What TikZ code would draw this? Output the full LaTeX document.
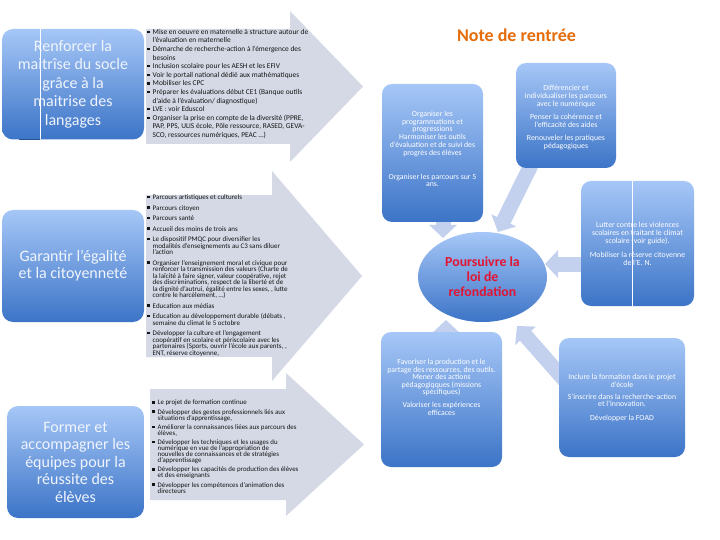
\documentclass[tikz,border=0pt]{standalone}
\usepackage{fontspec}
\setmainfont{Carlito}
\usetikzlibrary{arrows.meta,shapes.geometric}
\definecolor{boxtop}{RGB}{166,199,247}
\definecolor{boxbot}{RGB}{60,116,199}
\definecolor{chevcol}{RGB}{212,217,229}
\definecolor{conncol}{RGB}{195,209,238}
\definecolor{titlecol}{RGB}{228,108,10}
\definecolor{redcol}{RGB}{226,20,50}
\definecolor{paletxt}{RGB}{240,244,252}
\newcommand\sqb{\makebox[5.5pt][l]{\rule[1.3pt]{2.3pt}{2.3pt}}}
\newcommand\ctn{\hspace*{5.5pt}}
\begin{document}
\begin{tikzpicture}[x=1pt,y=-1pt,
  lbox/.style={rounded corners=11pt, top color=boxtop, bottom color=boxbot, draw=none, inner sep=0pt, align=center, text=paletxt},
  rbox/.style={rounded corners=10pt, top color=boxtop, bottom color=boxbot, draw=none, inner sep=0pt},
  rtxt/.style={align=center, text=white, inner sep=0pt, font=\fontsize{7.8}{7.8}\selectfont},
  ltxt/.style={align=left, inner sep=0pt, text=black!92, anchor=north west},
  conn/.style={draw=conncol, line width=15pt, -{Triangle[length=13pt,width=27pt]}},
  chev/.style={fill=chevcol}]
\useasboundingbox (0,0) rectangle (720,540);
\fill[white] (0,0) rectangle (720,540);

% big chevron arrows
\fill[chev] (146,29) -- (290,29) -- (290,11) -- (363,86.5) -- (290,162) -- (290,144) -- (146,144) -- cycle;
\fill[chev] (146,195) -- (272,195) -- (272,171) -- (362,276) -- (272,381) -- (272,357) -- (146,357) -- cycle;
\fill[chev] (150,389) -- (286,389) -- (286,373) -- (364,444.5) -- (286,516) -- (286,500) -- (150,500) -- cycle;

% left boxes
\node[lbox, minimum width=142pt, minimum height=110.5pt, font=\fontsize{16}{18.5}\selectfont] (b1) at (73,84.25)
  {Renforcer la\\maitrîse du socle\\grâce à la\\maitrise des\\langages};
\draw[white, line width=0.6pt] (40,29) -- (40,139.5);
\draw[boxbot!70!black, line width=0.6pt] (19,139.5) -- (40,139.5);
\node[lbox, minimum width=142pt, minimum height=112pt, font=\fontsize{16}{17}\selectfont] (b2) at (73,266)
  {Garantir l'égalité\\et la citoyenneté};
\node[lbox, minimum width=137pt, minimum height=112pt, font=\fontsize{16}{17.5}\selectfont] (b3) at (75.5,462)
  {Former et\\accompagner les\\équipes pour la\\réussite des\\élèves};

% list texts
\node[ltxt, font=\fontsize{7.4}{8.6}\selectfont] (l1) at (147,29) {%
\sqb Mise en oeuvre en maternelle à structure autour de\\
\ctn l'évaluation en maternelle\\
\sqb Démarche de recherche-action à l'émergence des\\
\ctn besoins\\
\sqb Inclusion scolaire pour les AESH et les EFIV\\
\sqb Voir le portail national dédié aux mathématiques\\
\sqb Mobiliser les CPC\\
\sqb Préparer les évaluations début CE1 (Banque outils\\
\ctn d'aide à l'évaluation/ diagnostique)\\
\sqb LVE : voir Eduscol\\
\sqb Organiser la prise en compte de la diversité (PPRE,\\
\ctn PAP, PPS, ULIS école, Pôle ressource, RASED, GEVA-\\
\ctn SCO, ressources numériques, PEAC …)};

\node[ltxt, font=\fontsize{7}{6.5}\selectfont] (l2) at (147,194.5) {%
\sqb Parcours artistiques et culturels\\[4pt]
\sqb Parcours citoyen\\[4pt]
\sqb Parcours santé\\[4pt]
\sqb Accueil des moins de trois ans\\[4pt]
\sqb Le dispositif PMQC pour diversifier les\\
\ctn modalités d'enseignements au C3 sans diluer\\
\ctn l'action\\[4pt]
\sqb Organiser l'enseignement moral et civique pour\\
\ctn renforcer la transmission des valeurs (Charte de\\
\ctn la laïcité à faire signer, valeur coopérative, rejet\\
\ctn des discriminations, respect de la liberté et de\\
\ctn la dignité d'autrui, égalité entre les sexes, , lutte\\
\ctn contre le harcèlement, …)\\[4pt]
\sqb Education aux médias\\[4pt]
\sqb Education au développement durable (débats ,\\
\ctn semaine du climat le 5 octobre\\[4pt]
\sqb Développer la culture et l'engagement\\
\ctn coopératif en scolaire et périscolaire avec les\\
\ctn partenaires (Sports, ouvrir l'école aux parents, ,\\
\ctn ENT, réserve citoyenne,};

\node[ltxt, font=\fontsize{6.9}{6.1}\selectfont] (l3) at (152,400) {%
\sqb Le projet de formation continue\\[3pt]
\sqb Développer des gestes professionnels liés aux\\
\ctn situations d'apprentissage,\\[3pt]
\sqb Améliorer la connaissances liées aux parcours des\\
\ctn élèves,\\[3pt]
\sqb Développer les techniques et les usages du\\
\ctn numérique en vue de l'appropriation de\\
\ctn nouvelles de connaissances et de stratégies\\
\ctn d'apprentissage\\[3pt]
\sqb Développer les capacités de production des élèves\\
\ctn et des enseignants\\[3pt]
\sqb Développer les compétences d'animation des\\
\ctn directeurs};

% right side reference positions
\coordinate (elc) at (482.5,277);
\coordinate (bl1c) at (432.5,153);
\coordinate (btc) at (566,115.5);
\coordinate (brc) at (637.5,243.5);
\coordinate (bblc) at (441.5,399.5);
\coordinate (bbrc) at (622,397.5);

\path (bl1c) node[minimum width=101pt, minimum height=138pt, inner sep=0pt] (bl1) {};
\path (btc) node[minimum width=100pt, minimum height=105pt, inner sep=0pt] (bt) {};
\path (brc) node[minimum width=113pt, minimum height=125pt, inner sep=0pt] (br) {};
\path (bblc) node[minimum width=121pt, minimum height=135pt, inner sep=0pt] (bbl) {};
\path (bbrc) node[minimum width=126pt, minimum height=119pt, inner sep=0pt] (bbr) {};
\path (elc) node[ellipse, minimum width=129pt, minimum height=90pt, inner sep=0pt] (el) {};

% connectors
\draw[conn] ([shift={(10.5,-2)}]bl1.south) -- ([shift={(-39.5,-39)}]el.center);
\draw[conn] ([shift={(-35,-3)}]bt.south) -- ([shift={(15.5,-45)}]el.center);
\draw[conn] ([shift={(3,20.5)}]br.west) -- ([shift={(62.5,-13)}]el.center);
\draw[conn] ([shift={(4.5,3)}]bbl.north) -- ([shift={(-36.5,43)}]el.center);
\draw[conn] ([shift={(16,54)}]bbr.north west) -- ([shift={(34.5,49)}]el.center);

% visible right boxes
\node[rbox, minimum width=101pt, minimum height=138pt] (rl1) at (bl1c) {};
\node[rtxt] (tl1) at (432.5,149) {Organiser les\\programmations et\\progressions\\Harmoniser les outils\\d'évaluation et de suivi des\\progrès des élèves\\[16pt]Organiser les parcours sur 5\\ans.};

\node[rbox, minimum width=100pt, minimum height=105pt] (rt) at (btc) {};
\node[rtxt, font=\fontsize{7.8}{8}\selectfont] (tt) at (566,117) {Différencier et\\individualiser les parcours\\avec le numérique\\[5pt]Penser la cohérence et\\l'efficacité des aides\\[5pt]Renouveler les pratiques\\pédagogiques};

\node[rbox, minimum width=113pt, minimum height=125pt] (rr) at (brc) {};
\draw[white, line width=0.6pt] (632,181) -- (632,306);
\node[rtxt, font=\fontsize{7.8}{8}\selectfont] (tr) at (637.5,244) {Lutter contre les violences\\scolaires en traitant le climat\\scolaire (voir guide).\\[6pt]Mobiliser la réserve citoyenne\\de l'E. N.};

\node[rbox, minimum width=121pt, minimum height=135pt] (rbl) at (bblc) {};
\node[rtxt, font=\fontsize{7.8}{7.5}\selectfont] (tbl) at (441.5,387.5) {Favoriser la production et le\\partage des ressources, des outils.\\Mener des actions\\pédagogiqques (missions\\spécifiques)\\[5.5pt]Valoriser les expériences\\efficaces};

\node[rbox, minimum width=126pt, minimum height=119pt] (rbr) at (bbrc) {};
\node[rtxt, font=\fontsize{7.8}{7.5}\selectfont] (tbr) at (622,398) {Inclure la formation dans le projet\\d'école\\[4.5pt]S'inscrire dans la recherche-action\\et l'innovation.\\[6pt]Développer la FOAD};

\node[ellipse, minimum width=129pt, minimum height=90pt, inner sep=0pt, top color=boxtop, bottom color=boxbot, align=center, text=redcol, font=\bfseries\fontsize{13.8}{15}\selectfont] (elv) at (elc) {Poursuivre la\\loi de\\refondation};

\node[font=\bfseries\fontsize{18}{20}\selectfont, text=titlecol, inner sep=0pt] (title) at (516.5,35) {Note de rentrée};
\end{tikzpicture}
\end{document}
